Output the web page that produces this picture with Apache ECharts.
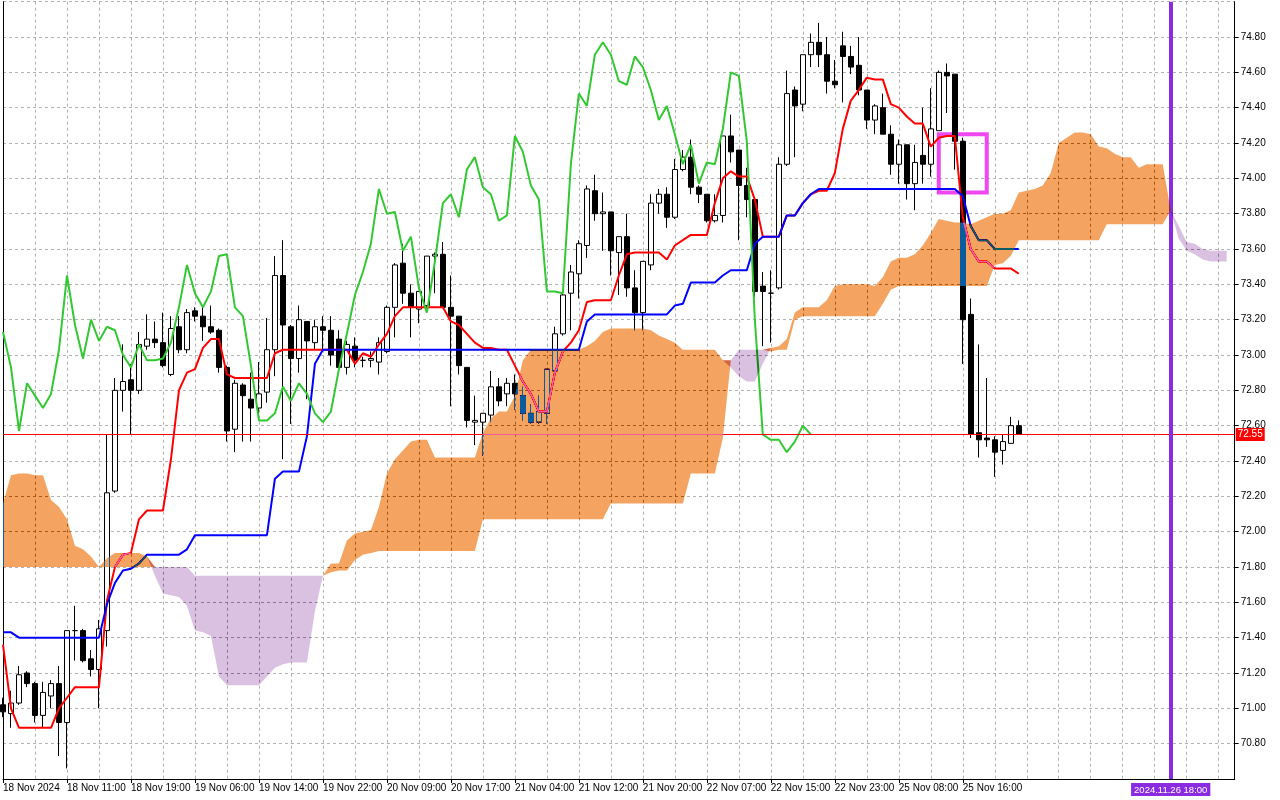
<!DOCTYPE html>
<html>
<head>
<meta charset="utf-8">
<title>Ichimoku H1</title>
<script src="https://cdn.jsdelivr.net/npm/echarts@6/dist/echarts.min.js"></script>
<style>
  html, body { margin: 0; padding: 0; background: #fff; }
  #chart { width: 1280px; height: 800px; }
</style>
</head>
<body>
<div id="chart"></div>
<script>
// ---- data (hourly bars) ----
var opens = [
  71.02, 70.97, 71.03, 71.20, 71.14, 70.96, 71.07, 71.14, 70.92, 71.44,
  71.44, 71.28, 71.22, 71.44, 72.23, 72.80, 72.86, 72.80, 73.05, 73.09,
  73.07, 72.89, 73.16, 73.03, 73.25, 73.22, 73.16, 73.14, 72.93, 72.58,
  72.83, 72.75, 72.70, 72.79, 73.03, 73.45, 73.16, 72.98, 73.19, 73.07,
  73.16, 73.14, 73.09, 72.93, 73.05, 72.97, 72.97, 72.96, 73.02, 73.27,
  73.52, 73.35, 73.26, 73.28, 73.56, 73.57, 73.27, 73.22, 72.93, 72.62,
  72.62, 72.66, 72.82, 72.78, 72.84, 72.77, 72.67, 72.62, 72.67, 72.91,
  73.12, 73.35, 73.46, 73.62, 73.93, 73.80, 73.81, 73.58, 73.67, 73.38,
  73.24, 73.51, 73.86, 73.91, 73.78, 74.05, 74.12, 73.95, 73.91, 73.76,
  73.79, 74.24, 74.16, 73.96, 73.88, 73.39, 73.35, 73.38, 74.08, 74.50,
  74.42, 74.70, 74.77, 74.70, 74.55, 74.75, 74.69, 74.64, 74.50, 74.33,
  74.40, 74.25, 74.08, 74.19, 73.97, 74.13, 74.08, 74.27, 74.60, 74.59,
  74.21, 73.23, 72.56, 72.53, 72.52, 72.46, 72.50, 72.60
];
var closes = [
  70.98, 71.03, 71.19, 71.14, 70.96, 71.09, 71.14, 70.92, 71.44, 71.44,
  71.27, 71.22, 71.45, 72.22, 72.80, 72.85, 72.80, 73.06, 73.09, 73.07,
  72.94, 73.15, 73.03, 73.24, 73.22, 73.16, 73.13, 72.93, 72.57, 72.84,
  72.77, 72.70, 72.78, 73.03, 73.45, 73.17, 72.98, 73.20, 73.08, 73.16,
  73.14, 73.00, 72.93, 73.06, 72.97, 72.97, 72.98, 73.07, 73.27, 73.51,
  73.35, 73.27, 73.36, 73.56, 73.57, 73.27, 73.22, 72.94, 72.63, 72.63,
  72.67, 72.82, 72.74, 72.84, 72.78, 72.67, 72.62, 72.68, 72.92, 73.12,
  73.34, 73.47, 73.63, 73.94, 73.80, 73.81, 73.59, 73.67, 73.38, 73.24,
  73.53, 73.86, 73.91, 73.78, 74.05, 74.12, 73.95, 73.91, 73.76, 73.79,
  74.24, 74.15, 73.96, 73.88, 73.36, 73.36, 73.35, 74.08, 74.48, 74.41,
  74.70, 74.77, 74.70, 74.55, 74.53, 74.69, 74.63, 74.50, 74.33, 74.41,
  74.25, 74.08, 74.19, 73.97, 74.09, 74.08, 74.28, 74.60, 74.58, 74.21,
  73.20, 72.55, 72.52, 72.52, 72.45, 72.51, 72.60, 72.55
];
var highs = [
  71.06, 71.10, 71.24, 71.21, 71.15, 71.15, 71.16, 71.24, 71.44, 71.58,
  71.45, 71.33, 71.50, 72.55, 72.87, 73.06, 72.95, 73.13, 73.23, 73.19,
  73.24, 73.22, 73.22, 73.26, 73.27, 73.28, 73.28, 73.15, 72.94, 72.86,
  72.84, 72.90, 72.96, 73.21, 73.56, 73.65, 73.17, 73.28, 73.19, 73.20,
  73.22, 73.22, 73.14, 73.08, 73.10, 72.99, 73.02, 73.10, 73.28, 73.52,
  73.63, 73.40, 73.36, 73.56, 73.58, 73.64, 73.45, 73.22, 72.93, 72.77,
  72.67, 72.91, 72.87, 72.87, 72.89, 72.82, 72.72, 72.77, 72.92, 73.16,
  73.36, 73.51, 73.65, 73.96, 74.02, 73.92, 73.81, 73.67, 73.80, 73.48,
  73.53, 73.91, 73.94, 73.95, 74.11, 74.16, 74.22, 73.96, 73.91, 73.91,
  74.24, 74.36, 74.16, 74.06, 73.89, 73.47, 73.48, 74.12, 74.61, 74.52,
  74.70, 74.82, 74.88, 74.80, 74.67, 74.83, 74.75, 74.80, 74.50, 74.42,
  74.48, 74.30, 74.22, 74.19, 74.19, 74.40, 74.51, 74.61, 74.65, 74.59,
  74.23, 73.32, 73.06, 72.87, 72.54, 72.55, 72.65, 72.63
];
var lows = [
  70.95, 70.89, 71.02, 71.12, 70.92, 70.89, 71.00, 70.73, 70.66, 71.27,
  71.26, 71.18, 71.00, 71.35, 72.22, 72.68, 72.55, 72.78, 73.03, 73.04,
  72.93, 72.88, 73.01, 73.01, 73.19, 73.08, 73.12, 72.90, 72.51, 72.45,
  72.51, 72.51, 72.64, 72.73, 72.88, 72.41, 72.61, 72.90, 72.75, 73.03,
  73.03, 72.94, 72.93, 72.89, 72.93, 72.93, 72.93, 72.89, 73.01, 73.10,
  73.29, 73.10, 73.18, 73.26, 73.35, 73.27, 72.71, 72.89, 72.59, 72.49,
  72.43, 72.62, 72.71, 72.71, 72.69, 72.63, 72.61, 72.61, 72.61, 72.90,
  73.11, 73.14, 73.32, 73.55, 73.76, 73.59, 73.45, 73.34, 73.33, 73.14,
  73.14, 73.48, 73.80, 73.72, 73.77, 74.04, 73.91, 73.86, 73.75, 73.75,
  73.75, 74.09, 73.65, 73.78, 73.33, 73.05, 73.07, 73.37, 74.07, 74.12,
  74.38, 74.63, 74.63, 74.48, 74.51, 74.43, 74.59, 74.47, 74.28, 74.25,
  74.25, 74.02, 73.97, 73.88, 73.82, 73.97, 74.01, 74.27, 74.37, 74.05,
  72.95, 72.53, 72.42, 72.48, 72.31, 72.38, 72.50, 72.55
];
var tenkan = [
  71.36, 71.00, 70.89, 70.89, 70.89, 70.89, 70.89, 71.00, 71.06, 71.12,
  71.12, 71.12, 71.12, 71.61, 71.80, 71.87, 71.88, 72.07, 72.12, 72.12,
  72.12, 72.41, 72.80, 72.90, 72.92, 73.04, 73.09, 73.09, 72.89, 72.87,
  72.87, 72.87, 72.87, 72.87, 73.01, 73.03, 73.03, 73.03, 73.03, 73.03,
  73.03, 73.03, 73.03, 73.03, 72.95, 73.01, 72.99, 73.06, 73.12, 73.22,
  73.27, 73.27, 73.27, 73.27, 73.27, 73.27, 73.19, 73.17, 73.12, 73.07,
  73.04, 73.04, 73.03, 73.03, 72.94, 72.85, 72.78, 72.68, 72.68, 72.90,
  73.02, 73.07, 73.14, 73.30, 73.31, 73.31, 73.31, 73.45, 73.57, 73.58,
  73.58, 73.58, 73.58, 73.54, 73.62, 73.65, 73.68, 73.68, 73.68, 73.86,
  74.00, 74.04, 74.01, 74.01, 73.88, 73.67, 73.67, 73.67, 73.79, 73.79,
  73.86, 73.91, 73.93, 73.93, 74.03, 74.28, 74.44, 74.50, 74.57, 74.56,
  74.56, 74.42, 74.40, 74.35, 74.31, 74.31, 74.18, 74.23, 74.24, 74.24,
  73.78, 73.60, 73.53, 73.53, 73.49, 73.49, 73.49, 73.46
];
var kijun = [
  71.43, 71.43, 71.40, 71.40, 71.40, 71.40, 71.40, 71.40, 71.40, 71.40,
  71.40, 71.40, 71.40, 71.59, 71.71, 71.78, 71.79, 71.82, 71.87, 71.87,
  71.87, 71.87, 71.87, 71.90, 71.98, 71.98, 71.98, 71.98, 71.98, 71.98,
  71.98, 71.98, 71.98, 71.98, 72.30, 72.34, 72.34, 72.34, 72.54, 72.95,
  73.03, 73.03, 73.03, 73.03, 73.03, 73.03, 73.03, 73.03, 73.03, 73.03,
  73.03, 73.03, 73.03, 73.03, 73.03, 73.03, 73.03, 73.03, 73.03, 73.03,
  73.03, 73.03, 73.03, 73.03, 73.03, 73.03, 73.03, 73.03, 73.03, 73.03,
  73.03, 73.03, 73.03, 73.19, 73.23, 73.23, 73.23, 73.23, 73.23, 73.23,
  73.23, 73.23, 73.23, 73.23, 73.28, 73.29, 73.41, 73.41, 73.41, 73.41,
  73.45, 73.48, 73.48, 73.48, 73.63, 73.67, 73.67, 73.67, 73.79, 73.79,
  73.86, 73.91, 73.94, 73.94, 73.94, 73.94, 73.94, 73.94, 73.94, 73.94,
  73.94, 73.94, 73.94, 73.94, 73.94, 73.94, 73.94, 73.94, 73.94, 73.94,
  73.90, 73.73, 73.65, 73.65, 73.60, 73.60, 73.60, 73.60
];
// cloud spans, already displaced 26 bars forward
var senkouA = [
  72.16, 72.32, 72.33, 72.33, 72.32, 72.32, 72.18, 72.14, 72.07, 71.92,
  71.90, 71.86, 71.80, 71.85, 71.88, 71.88, 71.88, 71.88, 71.86, 71.75,
  71.65, 71.64, 71.63, 71.58, 71.44, 71.43, 71.41, 71.18, 71.13, 71.13,
  71.13, 71.13, 71.13, 71.18, 71.23, 71.25, 71.26, 71.26, 71.26, 71.55,
  71.75, 71.82, 71.82, 71.95, 71.99, 72.00, 72.01, 72.14, 72.33, 72.41,
  72.46, 72.51, 72.52, 72.52, 72.42, 72.42, 72.42, 72.42, 72.42, 72.42,
  72.56, 72.64, 72.68, 72.68, 72.77, 72.97, 73.03, 73.03, 73.03, 73.03,
  73.03, 73.03, 73.03, 73.05, 73.08, 73.13, 73.15, 73.15, 73.15, 73.15,
  73.15, 73.14, 73.11, 73.09, 73.07, 73.03, 73.03, 73.03, 73.03, 73.03,
  72.97, 72.93, 72.88, 72.85, 72.85, 72.95, 73.04, 73.05, 73.09, 73.24,
  73.27, 73.27, 73.27, 73.31, 73.39, 73.40, 73.40, 73.40, 73.40, 73.39,
  73.44, 73.53, 73.55, 73.55, 73.57, 73.62, 73.69, 73.77, 73.76, 73.75,
  73.75, 73.74, 73.76, 73.78, 73.80, 73.80, 73.82, 73.92, 73.93, 73.94,
  73.96, 74.03, 74.20, 74.23, 74.26, 74.26, 74.25, 74.18, 74.17, 74.14,
  74.12, 74.12, 74.06, 74.08, 74.08, 74.08, 73.82, 73.66, 73.59, 73.57,
  73.54, 73.53, 73.53, 73.53
];
var senkouB = [
  71.80, 71.80, 71.80, 71.80, 71.80, 71.80, 71.80, 71.80, 71.80, 71.80,
  71.80, 71.80, 71.80, 71.80, 71.80, 71.80, 71.80, 71.80, 71.80, 71.80,
  71.80, 71.80, 71.80, 71.80, 71.75, 71.75, 71.75, 71.75, 71.75, 71.75,
  71.75, 71.75, 71.75, 71.75, 71.75, 71.75, 71.75, 71.75, 71.75, 71.75,
  71.75, 71.77, 71.78, 71.78, 71.84, 71.87, 71.88, 71.89, 71.89, 71.89,
  71.89, 71.89, 71.89, 71.89, 71.89, 71.89, 71.89, 71.89, 71.89, 71.89,
  72.07, 72.07, 72.07, 72.07, 72.07, 72.07, 72.07, 72.07, 72.07, 72.07,
  72.07, 72.07, 72.07, 72.07, 72.07, 72.07, 72.16, 72.16, 72.16, 72.16,
  72.16, 72.16, 72.16, 72.16, 72.16, 72.16, 72.33, 72.33, 72.33, 72.33,
  72.53, 72.97, 73.03, 73.03, 73.03, 73.03, 73.02, 73.03, 73.03, 73.20,
  73.22, 73.22, 73.22, 73.22, 73.22, 73.22, 73.22, 73.22, 73.22, 73.22,
  73.29, 73.37, 73.39, 73.39, 73.39, 73.39, 73.39, 73.39, 73.39, 73.39,
  73.39, 73.39, 73.39, 73.39, 73.51, 73.52, 73.56, 73.65, 73.65, 73.65,
  73.65, 73.65, 73.65, 73.65, 73.65, 73.65, 73.65, 73.65, 73.74, 73.74,
  73.74, 73.74, 73.74, 73.74, 73.74, 73.74, 73.82, 73.73, 73.64, 73.63,
  73.60, 73.59, 73.59, 73.59
];
var tickLabels = [
  "18 Nov 2024", "18 Nov 11:00", "18 Nov 19:00", "19 Nov 06:00",
  "19 Nov 14:00", "19 Nov 22:00", "20 Nov 09:00", "20 Nov 17:00",
  "21 Nov 04:00", "21 Nov 12:00", "21 Nov 20:00", "22 Nov 07:00",
  "22 Nov 15:00", "22 Nov 23:00", "25 Nov 08:00", "25 Nov 16:00"
];
var labelStep = 8;        // one time label every 8 bars
var gridStep = 4;         // one vertical grid line every 4 bars
var chikouShift = 26;
var slotCount = 155;      // bars plus the 26 future bars of the cloud
var futureMarkIndex = 146;
var futureMarkText = "2024.11.26 18:00";
var boxFrom = 117, boxTo = 123, boxHigh = 74.25, boxLow = 73.92;

(function () {
    var font = "Liberation Sans";
    var categories = [];
    for (var i = 0; i < slotCount; i++) categories.push(String(i));

    var candleData = opens.map(function (o, i) {
        return [o, closes[i], lows[i], highs[i]];
    });
    // lagging line = closes drawn 26 bars back
    var chikou = closes.slice(chikouShift);
    var lastClose = closes[closes.length - 1];

    // cloud: orange where A above B, thistle where B above A
    var upWidth = senkouA.map(function (a, i) { return +Math.max(a - senkouB[i], 0).toFixed(4); });
    var dnWidth = senkouB.map(function (b, i) { return +Math.max(b - senkouA[i], 0).toFixed(4); });

    var isLabel = function (idx) { return idx % labelStep === 0 && idx / labelStep < tickLabels.length; };
    var gridLine = { color: "#b2b2b2", width: 1, type: [3, 3] };

    var myChart = echarts.init(document.getElementById("chart"));
    var option = {
        animation: false,
        backgroundColor: "#ffffff",
        grid: { left: 2.7, right: 45.3, top: 1.7, bottom: 21 },
        xAxis: {
            type: "category",
            data: categories,
            boundaryGap: false,
            axisLine: { onZero: false, lineStyle: { color: "#000", width: 1 } },
            axisTick: { show: true, interval: function (idx) { return isLabel(idx); }, length: 4, lineStyle: { color: "#000" } },
            axisLabel: {
                interval: function (idx) { return isLabel(idx); },
                formatter: function (v, idx) { return isLabel(idx) ? tickLabels[idx / labelStep] : ""; },
                align: "left",
                margin: 4,
                color: "#000",
                fontSize: 10,
                fontFamily: font
            },
            splitLine: { show: true, interval: function (idx) { return idx % gridStep === 0; }, lineStyle: gridLine }
        },
        yAxis: [
            {
                type: "value",
                position: "right",
                min: 70.6,
                max: 75.0,
                interval: 0.2,
                axisLine: { show: true, lineStyle: { color: "#000", width: 1 } },
                axisTick: { show: true, length: 4, lineStyle: { color: "#000" } },
                axisLabel: {
                    showMinLabel: false,
                    showMaxLabel: false,
                    margin: 6,
                    color: "#000",
                    fontSize: 10,
                    fontFamily: font,
                    formatter: function (v) { return v.toFixed(2); }
                },
                splitLine: { show: true, lineStyle: gridLine }
            },
            {
                type: "value",
                position: "left",
                min: 70.6,
                max: 75.0,
                axisLine: { show: true, lineStyle: { color: "#000", width: 1 } },
                axisTick: { show: false },
                axisLabel: { show: false },
                splitLine: { show: false }
            }
        ],
        series: [
            {
                name: "Price",
                type: "candlestick",
                data: candleData,
                barWidth: 5,
                z: 2,
                itemStyle: {
                    color: "#ffffff",
                    color0: "#000000",
                    borderColor: "#000000",
                    borderColor0: "#000000",
                    borderWidth: 1
                },
                markLine: {
                    silent: true,
                    z: 4,
                    symbol: ["none", "none"],
                    data: [
                        {
                            yAxis: lastClose,
                            lineStyle: { color: "#ff0000", width: 1, type: "solid" },
                            label: {
                                show: true, position: "end", distance: 1,
                                formatter: lastClose.toFixed(2),
                                color: "#fff", backgroundColor: "#ff0000",
                                padding: [2, 2, 1, 2], fontSize: 10, fontFamily: font
                            }
                        },
                        {
                            xAxis: futureMarkIndex,
                            lineStyle: { color: "#8a2be2", width: 4, type: "solid" },
                            label: {
                                show: true, position: "start", distance: 4,
                                formatter: futureMarkText,
                                color: "#fff", backgroundColor: "#8a2be2",
                                padding: [2, 3, 1, 3], fontSize: 9.5, fontFamily: font
                            }
                        }
                    ]
                },
                markArea: {
                    silent: true,
                    itemStyle: { color: "rgba(0,0,0,0)", borderColor: "#f048f0", borderWidth: 4 },
                    data: [[{ xAxis: boxFrom, yAxis: boxHigh }, { xAxis: boxTo, yAxis: boxLow }]]
                }
            },
            {
                name: "Tenkan-sen",
                type: "line",
                data: tenkan,
                symbol: "none",
                z: 3,
                lineStyle: { color: "#ff0000", width: 2 }
            },
            {
                name: "Kijun-sen",
                type: "line",
                data: kijun,
                symbol: "none",
                z: 3,
                lineStyle: { color: "#0000ff", width: 2 }
            },
            {
                name: "Chikou Span",
                type: "line",
                data: chikou,
                symbol: "none",
                z: 3,
                lineStyle: { color: "#32c832", width: 2 }
            },
            // orange part of the cloud (drawn with difference so what is under it shows through like the terminal)
            {
                name: "cloudUpBase", type: "line", stack: "up", data: senkouB,
                symbol: "none", silent: true, z: 10, lineStyle: { opacity: 0 }
            },
            {
                name: "cloudUp", type: "line", stack: "up", data: upWidth,
                symbol: "none", silent: true, z: 10, lineStyle: { opacity: 0 },
                areaStyle: { color: "rgb(11,91,159)", opacity: 1 },
                blendMode: "difference"
            },
            // thistle part
            {
                name: "cloudDnBase", type: "line", stack: "dn", data: senkouA,
                symbol: "none", silent: true, z: 10, lineStyle: { opacity: 0 }
            },
            {
                name: "cloudDn", type: "line", stack: "dn", data: dnWidth,
                symbol: "none", silent: true, z: 10, lineStyle: { opacity: 0 },
                areaStyle: { color: "rgb(36,62,30)", opacity: 1 },
                blendMode: "difference"
            }
        ]
    };
    myChart.setOption(option);
    window.addEventListener("resize", function () {
        myChart.resize();
    });
})();
</script>
</body>
</html>
